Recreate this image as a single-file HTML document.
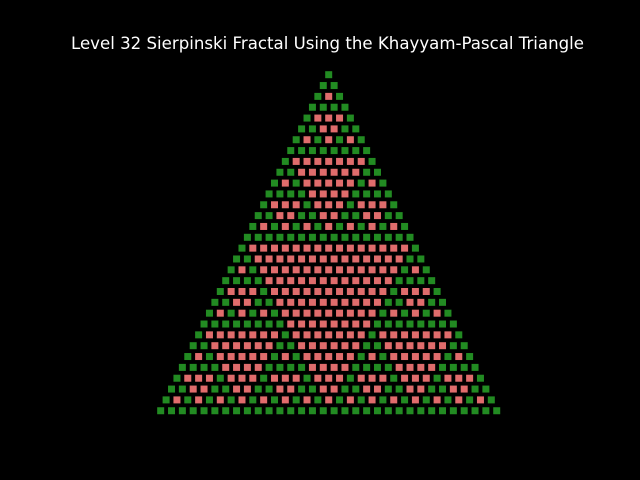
<!DOCTYPE html>
<html><head><meta charset="utf-8"><style>
html,body{margin:0;padding:0;background:#000;width:640px;height:480px;overflow:hidden}
</style></head><body>
<svg id="chart" width="640" height="480" xmlns="http://www.w3.org/2000/svg">
<rect width="640" height="480" fill="#000"/>
<text x="327.5" y="49" fill="#fff" font-family="DejaVu Sans, Liberation Sans, sans-serif" font-size="16.6" text-anchor="middle" textLength="513" lengthAdjust="spacingAndGlyphs">Level 32 Sierpinski Fractal Using the Khayyam-Pascal Triangle</text>
<g id="cells"></g>
</svg>
<script>
const levels = [32];
const oddColor = ['#228b22'];
const evenColor = ['#e06c6c'];
const n = levels[0];
// Pascal triangle rows (mod 2 determines colour)
const rows = [];
for (let i = 0; i < n; i++) {
  const r = [1];
  for (let j = 1; j < i; j++) r.push((rows[i-1][j-1] + rows[i-1][j]) % 2);
  if (i > 0) r.push(1);
  rows.push(r);
}
const x0 = 328.7, y0 = 74.7, step = 10.84, size = 7;
function xScale(i, j) { return x0 + (j - i / 2) * step; }
function yScale(i) { return y0 + i * step; }
const g = document.getElementById('cells');
const ns = 'http://www.w3.org/2000/svg';
rows.forEach((r, i) => r.forEach((v, j) => {
  const el = document.createElementNS(ns, 'rect');
  el.setAttribute('x', (xScale(i, j) - size / 2).toFixed(2));
  el.setAttribute('y', (yScale(i) - size / 2).toFixed(2));
  el.setAttribute('width', size);
  el.setAttribute('height', size);
  el.setAttribute('fill', v % 2 ? oddColor[0] : evenColor[0]);
  
  
  g.appendChild(el);
}));
</script>
</body></html>
